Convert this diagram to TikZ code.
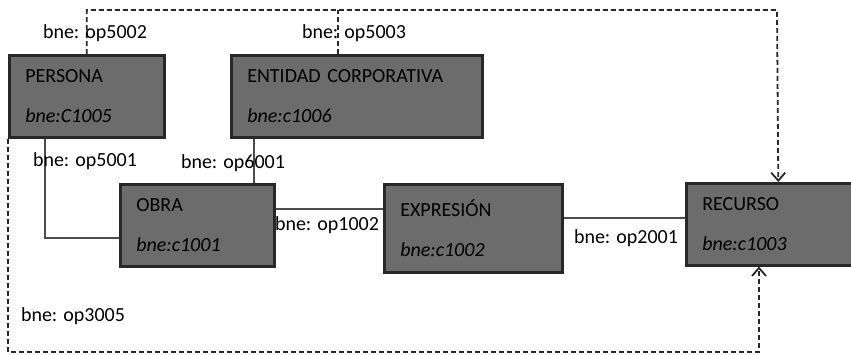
\documentclass[tikz,border=0pt]{standalone}
\usepackage{fontspec}
\setmainfont{Carlito}
\usetikzlibrary{arrows.meta}
\definecolor{dg}{RGB}{40,40,40}
\definecolor{boxfill}{RGB}{108,108,108}
\tikzset{
    box/.style =    {rectangle,
                    fill=boxfill,
                    draw=dg,
                    text=black,
                    line width=1.3pt,
                    align=left,
                    inner xsep=8pt,
                    minimum height=41pt,
                    anchor=north west},
    lbl/.style =    {text=black,
                    inner sep=1pt},
    link/.style =   {draw=black!70,
                    line width=0.6pt},
    ptr/.style =    {draw=dg,
                    line width=0.9pt,
                    dash pattern=on 2.5pt off 1.5pt},
    >={Straight Barb[length=4pt,width=7pt]}}

\begin{document}
\begin{tikzpicture}[x=0.5pt,y=-0.5pt]
                    \useasboundingbox (0,0) rectangle (851,354);
                    % classes
                    \node[box, text width=61.5pt]  (persona) at (8,54)    {PERSONA\\[8pt]\textit{bne:C1005}};
                    \node[box, text width=109.5pt] (entidad) at (230,54)  {ENTIDAD CORPORATIVA\\[8pt]\textit{bne:c1006}};
                    \node[box, text width=61pt]    (obra) at (119,183)    {OBRA\\[8pt]\textit{bne:c1001}};
                    \node[box, text width=73pt, minimum height=44pt] (expresion) at (383,183) {EXPRESIÓN\\[8pt]\textit{bne:c1002}};
                    \node[box, text width=76pt]    (recurso) at (685,182) {RECURSO\\[8pt]\textit{bne:c1003}};
                    % properties
                    \draw[link] (45,0 |- persona.south) |- (obra.west |- 0,238);
                    \draw[link] (254,0 |- entidad.south) -- (254,0 |- obra.north);
                    \draw[link] (obra.east |- 0,209) -- (expresion.west |- 0,209);
                    \draw[link] (expresion.east |- 0,218) -- (recurso.west |- 0,218);
                    \draw[ptr,->] (persona.north) |- (777,10) -- (recurso.north);
                    \draw[ptr] (338,0 |- entidad.north) -- (338,10);
                    \draw[ptr,->] (persona.south west) |- (759,352) -- (759,0 |- recurso.south);
                    % labels
                    \node[lbl] (l5002) at (95,33)  {bne: op5002};
                    \node[lbl] (l5003) at (354,33) {bne: op5003};
                    \node[lbl] (l5001) at (85,161) {bne: op5001};
                    \node[lbl] (l6001) at (233,163) {bne: op6001};
                    \node[lbl] (l1002) at (327,225) {bne: op1002};
                    \node[lbl] (l2001) at (626,238) {bne: op2001};
                    \node[lbl] (l3005) at (73,316) {bne: op3005};
\end{tikzpicture}
\end{document}
